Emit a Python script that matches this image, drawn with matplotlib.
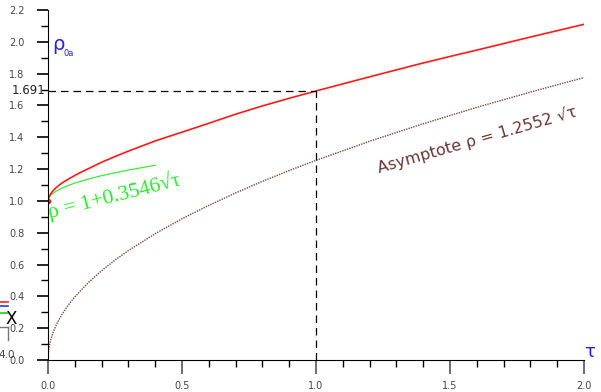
# rho_0a(tau) with its small-tau and large-tau approximations

import matplotlib
matplotlib.use("Agg")
import matplotlib.pyplot as plt
from matplotlib.ticker import MultipleLocator


# Data
tau_red = [0.0, 0.002, 0.005, 0.01, 0.016, 0.022, 0.03, 0.04, 0.05, 0.06,
           0.08, 0.1, 0.125, 0.15, 0.2, 0.25, 0.3, 0.4, 0.5, 0.6, 0.7, 0.8,
           0.9, 1.0, 1.2, 1.4, 1.5, 1.6, 1.8, 2.0]
rho_red = [1.0, 1.019, 1.030, 1.045, 1.058, 1.069, 1.083, 1.097, 1.110, 1.121,
           1.141, 1.160, 1.182, 1.202, 1.243, 1.279, 1.313, 1.377, 1.432,
           1.488, 1.545, 1.597, 1.645, 1.691, 1.780, 1.867, 1.908, 1.948,
           2.030, 2.110]

tau_asym = [0.0, 0.001, 0.005, 0.01, 0.02, 0.035, 0.05, 0.075, 0.1, 0.15, 0.2,
            0.25, 0.3, 0.4, 0.5, 0.6, 0.7, 0.8, 0.9, 1.0, 1.2, 1.4, 1.6, 1.8, 2.0]
rho_asym = [0.0, 0.040, 0.089, 0.126, 0.178, 0.235, 0.281, 0.344, 0.397, 0.486,
            0.561, 0.628, 0.688, 0.794, 0.888, 0.972, 1.050, 1.123, 1.191,
            1.255, 1.375, 1.485, 1.588, 1.684, 1.775]

tau_small = [0.0, 0.002, 0.01, 0.03, 0.06, 0.1, 0.15, 0.2, 0.3, 0.4]
rho_small = [1.0, 1.016, 1.036, 1.061, 1.087, 1.112, 1.137, 1.159, 1.194, 1.224]

tau_mark = 1.0
rho_mark = 1.691

x_ticks = [0.0, 0.5, 1.0, 1.5, 2.0]
y_ticks = [0.0, 0.2, 0.4, 0.6, 0.8, 1.0, 1.2, 1.4, 1.6, 1.8, 2.0, 2.2]


# Figure
plt.rcParams["font.family"] = "DejaVu Sans"
fig = plt.figure(figsize=[6.01, 3.92], dpi=100)
ax = fig.add_axes([48 / 601, 32 / 392, 536 / 601, 350 / 392])

ax.plot(tau_asym, rho_asym, color="#7a4646", lw=1.0, ls=(0, (1, 0.8)))
ax.plot(tau_small, rho_small, color="#33ee33", lw=0.9)
ax.plot(tau_red, rho_red, color="#ff1a1a", lw=1.2)
ax.plot([0.0], [1.0], "o", color="#ff1a1a", ms=3)

# Dashed guides at tau = 1
ax.plot([0, tau_mark], [rho_mark, rho_mark], color="black", lw=0.9, ls=(0, (6, 4)))
ax.plot([tau_mark, tau_mark], [0, rho_mark], color="black", lw=0.9, ls=(0, (6, 4)))

ax.set_xlim(0, 2.0)
ax.set_ylim(0, 2.2)

ax.spines.right.set_visible(False)
ax.spines.top.set_visible(False)
ax.spines.left.set_color("black")
ax.spines.bottom.set_color("black")

ax.set_xticks(x_ticks)
ax.set_xticklabels([f"{v:.1f}" for v in x_ticks])
ax.set_yticks(y_ticks)
ax.set_yticklabels([f"{v:.1f}" for v in y_ticks])
ax.xaxis.set_minor_locator(MultipleLocator(0.1))
ax.yaxis.set_minor_locator(MultipleLocator(0.1))
ax.tick_params(axis="x", which="major", length=10, width=1.2, color="#555555",
               labelsize=7, labelcolor="#444444", pad=5)
ax.tick_params(axis="x", which="minor", length=5, width=1, color="black")
ax.tick_params(axis="y", which="major", length=8, width=1.2, color="black",
               labelsize=7, labelcolor="#444444", pad=9)
ax.tick_params(axis="y", which="minor", length=5, width=1, color="black")

# Annotations
ax.text(-0.01, rho_mark, "1.691", ha="right", va="center", fontsize=8.5,
        color="#222222")
ax.text(1.6, 1.385, "Asymptote \u03c1 = 1.2552 \u221a\u03c4", ha="center",
        va="center", rotation=16, fontsize=11.5, color="#6b3535")
ax.text(0.247, 1.035, "\u03c1 = 1+0.3546\u221a\u03c4", ha="center", va="center",
        rotation=14, fontsize=15.5, color="#22ee22",
        family=["Liberation Serif", "DejaVu Serif"])

# Axis names
fig.text(52 / 601, 1 - 44 / 392, "\u03c1", color="#2222ee", fontsize=14,
         ha="left", va="center")
fig.text(63 / 601, 1 - 54 / 392, "0a", color="#2222ee", fontsize=6,
         ha="left", va="center")
fig.text(590 / 601, 1 - 352 / 392, "\u03c4", color="#2222ee", fontsize=13,
         ha="center", va="center")

# Clipped leftovers at the bottom-left corner
for (yy, cc) in [(302, "#ff2020"), (306, "#2040ff"), (313, "#20cc20")]:
    fig.add_artist(plt.Line2D([0, 8 / 601], [1 - yy / 392] * 2, color=cc, lw=1.2))
fig.add_artist(plt.Line2D([0, 8 / 601], [1 - 327 / 392] * 2, color="#777777", lw=1))
fig.add_artist(plt.Line2D([8 / 601] * 2, [1 - 327 / 392, 1 - 340 / 392],
                          color="#777777", lw=1))
fig.text(11 / 601, 1 - 319 / 392, "X", fontsize=12, color="black",
         ha="center", va="center")
fig.text(-2 / 601, 1 - 355 / 392, "4.0", fontsize=7.5, color="#444444",
         ha="left", va="center")

plt.savefig("out.png", dpi=100)
plt.close(fig)
